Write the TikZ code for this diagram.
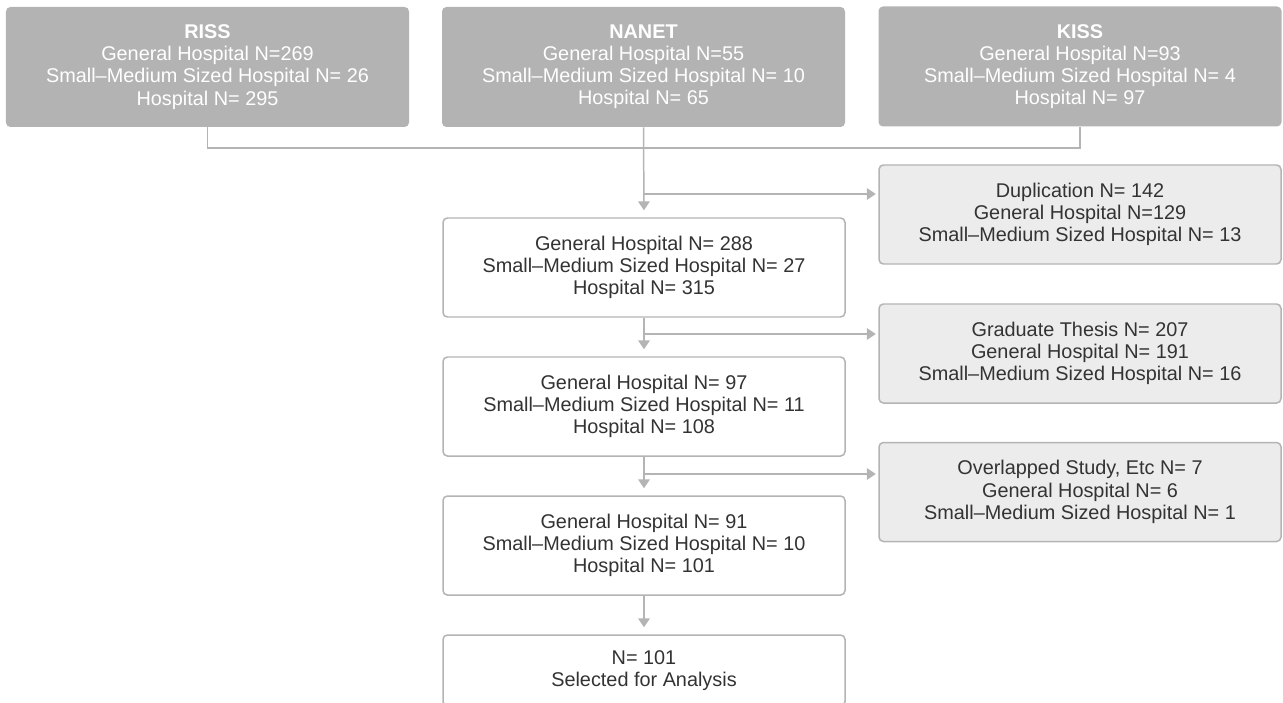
\documentclass[tikz,border=0pt]{standalone}
\usepackage{fontspec}
\setmainfont{Liberation Sans}
\usetikzlibrary{arrows.meta}
\usetikzlibrary{calc}
\definecolor{srcgray}{HTML}{B3B3B3}
\definecolor{linegray}{HTML}{B4B4B4}
\definecolor{sidegray}{HTML}{ECECEC}
\definecolor{txtgray}{HTML}{333333}
\tikzset{
	srcbox/.style={rectangle, rounded corners=2.5pt, fill=srcgray, text=white, align=center,
		minimum width=8.06cm, minimum height=2.4cm, font=\fontsize{11.3}{12.6}\selectfont},
	stagebox/.style={rectangle, rounded corners=2.5pt, draw=linegray, line width=0.85pt, fill=white,
		text=txtgray, align=center, minimum width=8.04cm, minimum height=1.98cm,
		font=\fontsize{11.3}{12.6}\selectfont},
	exclbox/.style={stagebox, fill=sidegray},
	link/.style={draw=linegray, line width=0.85pt},
	flow/.style={link, -{Triangle[width=6.5pt,length=5pt]}, shorten >=0.14cm},
	sideflow/.style={flow, shorten >=0.05cm}
}
\begin{document}
\begin{tikzpicture}
		\useasboundingbox (0,0) rectangle (25.66,-14.06);

		\node[srcbox] (riss) at (4.15,-1.34) {{\bfseries RISS}\\General Hospital N=269\\Small--Medium Sized Hospital N= 26\\Hospital N= 295};
		\node[srcbox] (nanet) at (12.87,-1.34) {{\bfseries NANET}\\General Hospital N=55\\Small--Medium Sized Hospital N= 10\\Hospital N= 65};
		\node[srcbox] (kiss) at (21.6,-1.33) {{\bfseries KISS}\\General Hospital N=93\\Small--Medium Sized Hospital N= 4\\Hospital N= 97};

		\node[stagebox] (pool) at (12.88,-5.35) {General Hospital N= 288\\Small--Medium Sized Hospital N= 27\\Hospital N= 315};
		\node[stagebox] (nothesis) at (12.88,-8.13) {General Hospital N= 97\\Small--Medium Sized Hospital N= 11\\Hospital N= 108};
		\node[stagebox] (final) at (12.88,-10.91) {General Hospital N= 91\\Small--Medium Sized Hospital N= 10\\Hospital N= 101};
		\node[stagebox, minimum height=1.42cm] (selected) at (12.88,-13.41) {N= 101\\Selected for Analysis};

		\node[exclbox] (dup) at (21.6,-4.29) {Duplication N= 142\\General Hospital N=129\\Small--Medium Sized Hospital N= 13};
		\node[exclbox] (thesis) at (21.6,-7.07) {Graduate Thesis N= 207\\General Hospital N= 191\\Small--Medium Sized Hospital N= 16};
		\node[exclbox] (overlap) at (21.6,-9.84) {Overlapped Study, Etc N= 7\\General Hospital N= 6\\Small--Medium Sized Hospital N= 1};

		\coordinate (join) at (12.87,-2.96);
		\coordinate (br1) at (12.87,-3.88);
		\coordinate (br2) at (12.87,-6.68);
		\coordinate (br3) at (12.87,-9.48);

		\draw[link] (riss.south) |- (join) -| (kiss.south);
		\draw[flow] (nanet.south) -- (pool.north);
		\draw[sideflow] (br1) -- (br1 -| dup.west);
		\draw[flow] (pool.south) -- (nothesis.north);
		\draw[sideflow] (br2) -- (br2 -| thesis.west);
		\draw[flow] (nothesis.south) -- (final.north);
		\draw[sideflow] (br3) -- (br3 -| overlap.west);
		\draw[flow] (final.south) -- (selected.north);
	\end{tikzpicture}
\end{document}
